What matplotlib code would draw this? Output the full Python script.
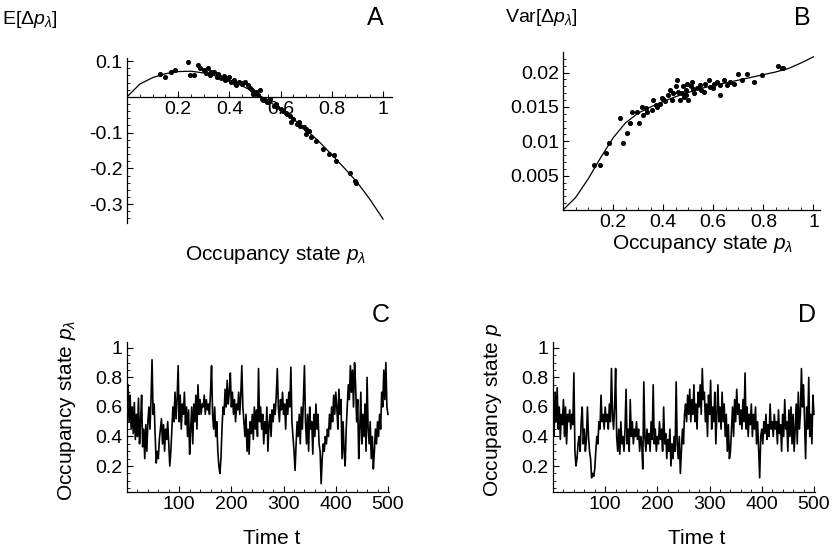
import numpy as np
import matplotlib.pyplot as plt

plt.rcParams['font.family'] = ['Liberation Sans', 'DejaVu Sans']
plt.rcParams['mathtext.fontset'] = 'custom'
plt.rcParams['mathtext.rm'] = 'Liberation Sans'
plt.rcParams['mathtext.it'] = 'Liberation Sans:italic'

# ---- panel A : drift ----
curve_p = [0, 0.05, 0.1, 0.15, 0.2, 0.25, 0.3, 0.35, 0.4, 0.45, 0.5,
           0.55, 0.6, 0.65, 0.7, 0.75, 0.8, 0.85, 0.9, 0.95, 1.0]
drift_curve = [0, 0.036, 0.054, 0.065, 0.071, 0.072, 0.067, 0.058, 0.046, 0.031, 0.012,
               -0.01, -0.035, -0.062, -0.092, -0.125, -0.162, -0.2, -0.24, -0.288, -0.342]
drift_p = [0.127, 0.15, 0.17, 0.186, 0.237, 0.245, 0.26, 0.276, 0.286, 0.3, 0.31, 0.318,
           0.325, 0.338, 0.35, 0.357, 0.368, 0.377, 0.384, 0.397, 0.406, 0.416, 0.427,
           0.436, 0.449, 0.462, 0.471, 0.48, 0.487, 0.494, 0.504, 0.513, 0.52, 0.526,
           0.533, 0.545, 0.56, 0.573, 0.586, 0.6, 0.61, 0.625, 0.638, 0.64, 0.65, 0.663,
           0.677, 0.69, 0.7, 0.71, 0.70, 0.72, 0.74, 0.766, 0.79, 0.808, 0.816, 0.87,
           0.89, 0.896, 0.33, 0.36, 0.39, 0.42, 0.45, 0.5, 0.54, 0.58, 0.62, 0.67]
drift_val = [0.064, 0.057, 0.071, 0.076, 0.097, 0.062, 0.062, 0.09, 0.08, 0.076, 0.068, 0.08,
             0.062, 0.071, 0.057, 0.064, 0.052, 0.058, 0.047, 0.055, 0.042, 0.047, 0.033,
             0.042, 0.038, 0.042, 0.033, 0.026, 0.019, 0.009, 0.014, 0.005, 0.019, -0.005,
             -0.009, -0.014, -0.005, -0.024, -0.028, -0.033, -0.038, -0.047, -0.052, -0.07,
             -0.061, -0.075, -0.08, -0.083, -0.09, -0.094, -0.104, -0.113, -0.123, -0.146,
             -0.16, -0.162, -0.179, -0.212, -0.236, -0.24, 0.07, 0.06, 0.05, 0.04, 0.035,
             0.01, -0.008, -0.02, -0.045, -0.07]

# ---- panel B : variance ----
var_curve = [0, 0.0018, 0.0045, 0.0076, 0.0105, 0.0127, 0.0141, 0.0150, 0.0158, 0.0165, 0.0171,
             0.0177, 0.0181, 0.0185, 0.0189, 0.0193, 0.0197, 0.0201, 0.0206, 0.0214, 0.0223]
var_p = [0.122, 0.146, 0.17, 0.182, 0.226, 0.239, 0.255, 0.269, 0.275, 0.295, 0.302, 0.315,
         0.319, 0.335, 0.355, 0.359, 0.375, 0.388, 0.395, 0.408, 0.42, 0.428, 0.435, 0.441,
         0.452, 0.457, 0.468, 0.475, 0.479, 0.484, 0.492, 0.497, 0.501, 0.511, 0.515, 0.521,
         0.535, 0.548, 0.561, 0.568, 0.581, 0.588, 0.601, 0.614, 0.628, 0.628, 0.641, 0.654,
         0.668, 0.681, 0.697, 0.714, 0.734, 0.761, 0.794, 0.86, 0.874, 0.88, 0.33, 0.37,
         0.4, 0.46, 0.49, 0.52, 0.55, 0.6]
var_val = [0.0065, 0.0065, 0.0083, 0.0097, 0.0134, 0.0097, 0.0112, 0.0126, 0.0142, 0.0142,
           0.0126, 0.015, 0.0138, 0.0143, 0.0146, 0.016, 0.015, 0.0155, 0.0163, 0.0158, 0.0167,
           0.0175, 0.016, 0.017, 0.018, 0.0189, 0.016, 0.017, 0.018, 0.0165, 0.0175, 0.0184,
           0.016, 0.018, 0.0187, 0.017, 0.0177, 0.0182, 0.0172, 0.0184, 0.0189, 0.0179, 0.0184,
           0.0187, 0.0167, 0.0182, 0.0189, 0.0182, 0.0187, 0.0184, 0.0198, 0.0189, 0.0198,
           0.0187, 0.0197, 0.0209, 0.0206, 0.0206, 0.0148, 0.0153, 0.0161, 0.0172, 0.0168,
           0.0176, 0.0174, 0.0178]

# ---- panels C, D : time series (every 2nd step) ----
series_c = [0.62, 0.75, 0.5, 0.68, 0.45, 0.6, 0.42, 0.63, 0.38, 0.55,
            0.4, 0.66, 0.35, 0.5, 0.68, 0.33, 0.45, 0.25, 0.48, 0.3,
            0.5, 0.6, 0.45, 0.65, 0.92, 0.55, 0.62, 0.4, 0.22, 0.3,
            0.25, 0.38, 0.45, 0.52, 0.35, 0.48, 0.3, 0.45, 0.38, 0.5,
            0.35, 0.2, 0.3, 0.45, 0.6, 0.5, 0.7, 0.52, 0.65, 0.88,
            0.5, 0.68, 0.45, 0.62, 0.55, 0.7, 0.48, 0.6, 0.4, 0.58,
            0.28, 0.45, 0.6, 0.35, 0.62, 0.5, 0.68, 0.45, 0.75, 0.55,
            0.65, 0.55, 0.62, 0.6, 0.68, 0.55, 0.65, 0.58, 0.62, 0.55,
            0.7, 0.88, 0.55, 0.45, 0.6, 0.4, 0.5, 0.3, 0.2, 0.15,
            0.25, 0.45, 0.6, 0.55, 0.72, 0.6, 0.78, 0.62, 0.7, 0.83,
            0.6, 0.7, 0.55, 0.65, 0.5, 0.62, 0.58, 0.7, 0.55, 0.68,
            0.88, 0.6, 0.5, 0.4, 0.55, 0.3, 0.45, 0.28, 0.5, 0.42,
            0.55, 0.38, 0.6, 0.45, 0.58, 0.4, 0.86, 0.5, 0.6, 0.45,
            0.55, 0.35, 0.5, 0.42, 0.6, 0.3, 0.48, 0.55, 0.4, 0.58,
            0.5, 0.62, 0.55, 0.68, 0.86, 0.6, 0.5, 0.65, 0.58, 0.7,
            0.55, 0.62, 0.45, 0.65, 0.55, 0.7, 0.6, 0.87, 0.5, 0.4,
            0.3, 0.17, 0.35, 0.5, 0.4, 0.55, 0.35, 0.6, 0.45, 0.65,
            0.88, 0.5, 0.35, 0.55, 0.3, 0.6, 0.45, 0.5, 0.28, 0.55,
            0.4, 0.62, 0.45, 0.55, 0.35, 0.3, 0.08, 0.25, 0.35, 0.3,
            0.4, 0.35, 0.45, 0.4, 0.55, 0.45, 0.6, 0.5, 0.68, 0.55,
            0.7, 0.6, 0.45, 0.72, 0.55, 0.65, 0.25, 0.5, 0.3, 0.2,
            0.45, 0.6, 0.75, 0.65, 0.88, 0.7, 0.85, 0.6, 0.9, 0.75,
            0.5, 0.65, 0.25, 0.45, 0.7, 0.35, 0.55, 0.4, 0.62, 0.3,
            0.8, 0.45, 0.35, 0.5, 0.25, 0.4, 0.18, 0.3, 0.45, 0.35,
            0.5, 0.4, 0.55, 0.45, 0.7, 0.6, 0.85, 0.65, 0.9, 0.6,
            0.55]
series_d = [0.55, 0.4, 0.7, 0.5, 0.73, 0.45, 0.6, 0.38, 0.55, 0.48,
            0.65, 0.4, 0.6, 0.35, 0.55, 0.5, 0.58, 0.45, 0.55, 0.48,
            0.83, 0.3, 0.2, 0.25, 0.35, 0.4, 0.3, 0.5, 0.6, 0.35,
            0.45, 0.3, 0.38, 0.6, 0.4, 0.3, 0.25, 0.12, 0.15, 0.13,
            0.18, 0.3, 0.4, 0.35, 0.5, 0.45, 0.68, 0.5, 0.55, 0.45,
            0.6, 0.5, 0.55, 0.45, 0.62, 0.5, 0.86, 0.55, 0.45, 0.6,
            0.86, 0.4, 0.3, 0.45, 0.28, 0.5, 0.35, 0.4, 0.3, 0.45,
            0.72, 0.35, 0.45, 0.3, 0.65, 0.4, 0.5, 0.35, 0.45, 0.4,
            0.5, 0.38, 0.45, 0.3, 0.4, 0.35, 0.18, 0.77, 0.4, 0.3,
            0.45, 0.35, 0.42, 0.3, 0.5, 0.38, 0.75, 0.35, 0.45, 0.3,
            0.4, 0.35, 0.5, 0.38, 0.45, 0.3, 0.6, 0.35, 0.42, 0.25,
            0.38, 0.3, 0.45, 0.2, 0.35, 0.25, 0.4, 0.3, 0.77, 0.35,
            0.25, 0.4, 0.15, 0.3, 0.45, 0.35, 0.55, 0.62, 0.5, 0.68,
            0.55, 0.72, 0.5, 0.65, 0.55, 0.75, 0.5, 0.62, 0.45, 0.7,
            0.6, 0.75, 0.55, 0.86, 0.65, 0.7, 0.5, 0.62, 0.4, 0.68,
            0.55, 0.78, 0.45, 0.6, 0.5, 0.7, 0.35, 0.55, 0.75, 0.5,
            0.6, 0.45, 0.7, 0.5, 0.62, 0.4, 0.55, 0.3, 0.48, 0.25,
            0.3, 0.45, 0.6, 0.4, 0.65, 0.5, 0.72, 0.55, 0.62, 0.48,
            0.58, 0.45, 0.65, 0.5, 0.83, 0.45, 0.6, 0.4, 0.55, 0.48,
            0.62, 0.4, 0.55, 0.45, 0.6, 0.35, 0.5, 0.3, 0.12, 0.4,
            0.45, 0.35, 0.5, 0.42, 0.55, 0.38, 0.48, 0.4, 0.62, 0.45,
            0.5, 0.4, 0.55, 0.45, 0.5, 0.35, 0.58, 0.42, 0.48, 0.3,
            0.55, 0.4, 0.65, 0.45, 0.5, 0.3, 0.58, 0.4, 0.6, 0.35,
            0.55, 0.3, 0.45, 0.62, 0.35, 0.7, 0.45, 0.55, 0.86, 0.6,
            0.75, 0.5, 0.25, 0.6, 0.45, 0.8, 0.4, 0.55, 0.35, 0.68,
            0.55]
time_c = np.arange(len(series_c)) * 2
time_d = np.arange(len(series_d)) * 2

p_ticks = [0.2, 0.4, 0.6, 0.8, 1.0]
p_labels = ['0.2', '0.4', '0.6', '0.8', '1']
t_ticks = [100, 200, 300, 400, 500]
occ_ticks = [0.2, 0.4, 0.6, 0.8, 1.0]
occ_labels = ['0.2', '0.4', '0.6', '0.8', '1']

W, H = 833, 553
fig = plt.figure(figsize=(W / 100, H / 100), dpi=100)


def rect(x0, y0, x1, y1):
    # pixel box -> figure fraction
    return [x0 / W, 1 - y1 / H, (x1 - x0) / W, (y1 - y0) / H]


def style(ax):
    for s in ['top', 'right']:
        ax.spines[s].set_visible(False)
    for s in ['left', 'bottom']:
        ax.spines[s].set_linewidth(0.9)
    ax.tick_params(which='major', direction='in', length=4, width=0.8, labelsize=14, pad=3)
    ax.tick_params(which='minor', direction='in', length=2, width=0.6)


# A
axA = fig.add_axes(rect(127, 58, 392, 223))
axA.plot(curve_p, drift_curve, color='black', lw=0.9, zorder=3)
axA.scatter(drift_p, drift_val, s=7, color='black', zorder=4)
axA.set_xlim(0, 1.035)
axA.set_ylim(-0.353, 0.109)
style(axA)
axA.spines['bottom'].set_position(('data', 0))
axA.set_xticks(p_ticks, p_labels)
axA.set_xticks(np.arange(0.05, 1.05, 0.05), minor=True)
axA.set_yticks([-0.3, -0.2, -0.1, 0.1], ['-0.3', '-0.2', '-0.1', '0.1'])
axA.set_yticks(np.arange(-0.34, 0.11, 0.02), minor=True)
fig.text(2 / W, 1 - 19 / H, r'E[$\Delta p_{\lambda}$]', fontsize=14, va='center', ha='left')
fig.text(276 / W, 1 - 255 / H, r'Occupancy state $p_{\lambda}$', fontsize=15, ha='center', va='center')
fig.text(375 / W, 1 - 18 / H, 'A', fontsize=18, ha='center', va='center')

# B
axB = fig.add_axes(rect(563, 52, 820, 210))
axB.plot(curve_p, var_curve, color='black', lw=0.9, zorder=3)
axB.scatter(var_p, var_val, s=7, color='black', zorder=4)
axB.set_xlim(0, 1.026)
axB.set_ylim(0, 0.023)
style(axB)
axB.set_xticks(p_ticks, p_labels)
axB.set_xticks(np.arange(0.05, 1.05, 0.05), minor=True)
axB.set_yticks([0.005, 0.01, 0.015, 0.02], ['0.005', '0.01', '0.015', '0.02'])
axB.set_yticks(np.arange(0.001, 0.023, 0.001), minor=True)
fig.text(505 / W, 1 - 18 / H, r'Var[$\Delta p_{\lambda}$]', fontsize=14, va='center', ha='left')
fig.text(703 / W, 1 - 244 / H, r'Occupancy state $p_{\lambda}$', fontsize=15, ha='center', va='center')
fig.text(802 / W, 1 - 18 / H, 'B', fontsize=18, ha='center', va='center')

# C and D
for x0, tt, ser, ylab, letter, lx, tx in [
        (127, time_c, series_c, r'Occupancy state $p_{\lambda}$', 'C', 67, 272),
        (553, time_d, series_d, r'Occupancy state $p$', 'D', 493, 697)]:
    ax = fig.add_axes(rect(x0, 342, x0 + 262, 492))
    ax.plot(tt, ser, color='black', lw=1.2)
    ax.set_xlim(0, 502)
    ax.set_ylim(0.024, 1.04)
    style(ax)
    ax.set_xticks(t_ticks)
    ax.set_xticks(np.arange(20, 501, 20), minor=True)
    ax.set_yticks(occ_ticks, occ_labels)
    ax.set_yticks(np.arange(0.05, 1.04, 0.05), minor=True)
    fig.text(lx / W, 1 - 410 / H, ylab, fontsize=15, rotation=90, ha='center', va='center')
    fig.text(tx / W, 1 - 538 / H, 'Time t', fontsize=15, ha='center', va='center')
    fig.text((x0 + 254) / W, 1 - 315 / H, letter, fontsize=18, ha='center', va='center')

fig.savefig('out.png', dpi=100)
